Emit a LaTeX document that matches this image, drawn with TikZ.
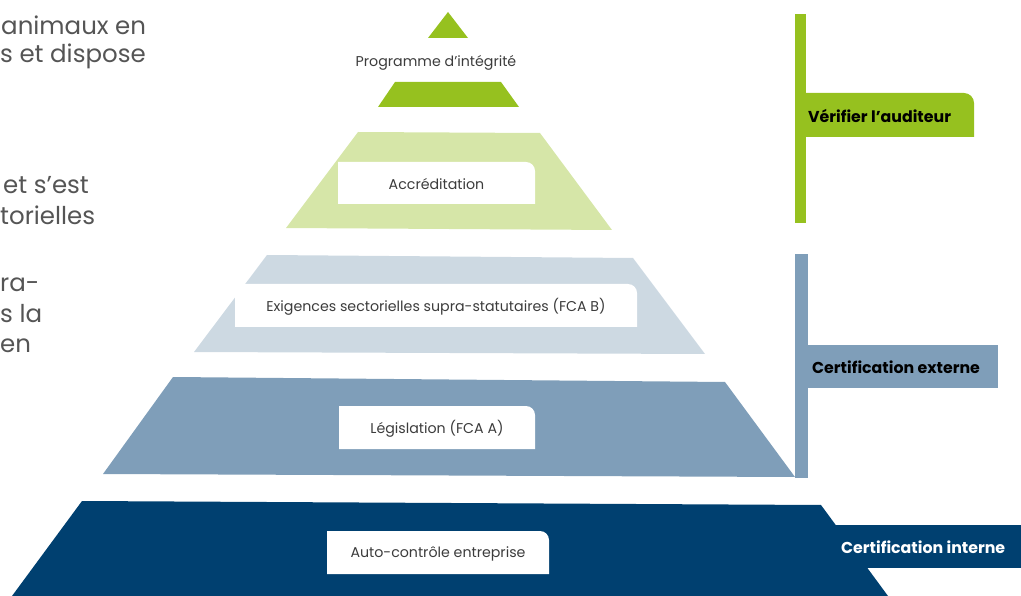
\documentclass[tikz,border=0pt]{standalone}
\usepackage{fontspec}
\setmainfont{Poppins}
\definecolor{lime}{RGB}{150,193,31}
\definecolor{palegreen}{RGB}{214,230,168}
\definecolor{paleblue}{RGB}{205,217,226}
\definecolor{steel}{RGB}{127,158,185}
\definecolor{navy}{RGB}{0,64,112}
\definecolor{darktxt}{RGB}{60,60,60}
\definecolor{paratxt}{RGB}{85,85,85}
\begin{document}
\begin{tikzpicture}[x=1pt,y=-1pt,
      lvl/.style={font=\fontsize{14.2}{16}\selectfont,text=darktxt,inner sep=0pt,yshift=-1.5pt},
      tab/.style={font=\fontsize{15.8}{18}\selectfont\bfseries,anchor=west,inner sep=0pt},
      para/.style={font=\fontsize{24.5}{28}\selectfont,text=paratxt,anchor=west,inner sep=0pt}]
      \useasboundingbox (0,0) rectangle (1021,596);

      \foreach \x/\y/\str in {1/25/animaux en,
                              0/56/s et dispose,
                              3/185/et s’est,
                              0/215/torielles,
                              0/285/ra-,
                              0/314/s la,
                              0/346/en}
      {\node[para] (p\y) at (\x,\y) {\str};
      };

      \fill[lime] (448,12) -- (468,38) -- (428,38) -- cycle;
      \node[lvl] (prog) at (436,61) {Programme d’intégrité};
      \fill[lime] (395,82) -- (501,82) -- (519,107) -- (378,107) -- cycle;

      \foreach \col/\tl/\tr/\br/\bl in {palegreen/{358,132}/{540,133}/{612,230}/{286,228},
                                        paleblue/{267,255}/{633,258}/{705,354}/{194,352},
                                        steel/{173,377}/{725,382}/{795,477}/{103,474},
                                        navy/{82,501}/{821,505}/{888,596}/{12,596}}
      {\fill[\col] (\tl) -- (\tr) -- (\br) -- (\bl) -- cycle;
      };

      \foreach \xa/\xb/\ya/\yb/\name/\str in {338/535/162/204/accr/Accréditation,
                                              235/637/284/327/exig/Exigences sectorielles supra-statutaires (FCA B),
                                              339/535/406/449/legis/Législation (FCA A),
                                              327/549/531/574/auto/Auto-contrôle entreprise}
      {\fill[white] (\xa,\yb) -- (\xa,\ya) [rounded corners=9pt] -- (\xb,\ya)
                    [sharp corners] -- (\xb,\yb) -- cycle;
       \node[lvl] (\name) at ({(\xa+\xb)/2},{(\ya+\yb)/2}) {\str};
      };

      \fill[lime] (795,14) rectangle (806,223);
      \fill[lime] (806,137) -- (806,93) [rounded corners=10pt] -- (974,93)
                  [sharp corners] -- (974,137) -- cycle;
      \node[tab] (verif) at (808,116) {Vérifier l’auditeur};

      \fill[steel] (795,254) rectangle (808,478);
      \fill[steel] (808,345) rectangle (998,388);
      \node[tab] (extern) at (812,367) {Certification externe};

      \fill[navy] (836,525) rectangle (1021,568);
      \node[tab,white] (intern) at (841,547) {Certification interne};
    \end{tikzpicture}
\end{document}
